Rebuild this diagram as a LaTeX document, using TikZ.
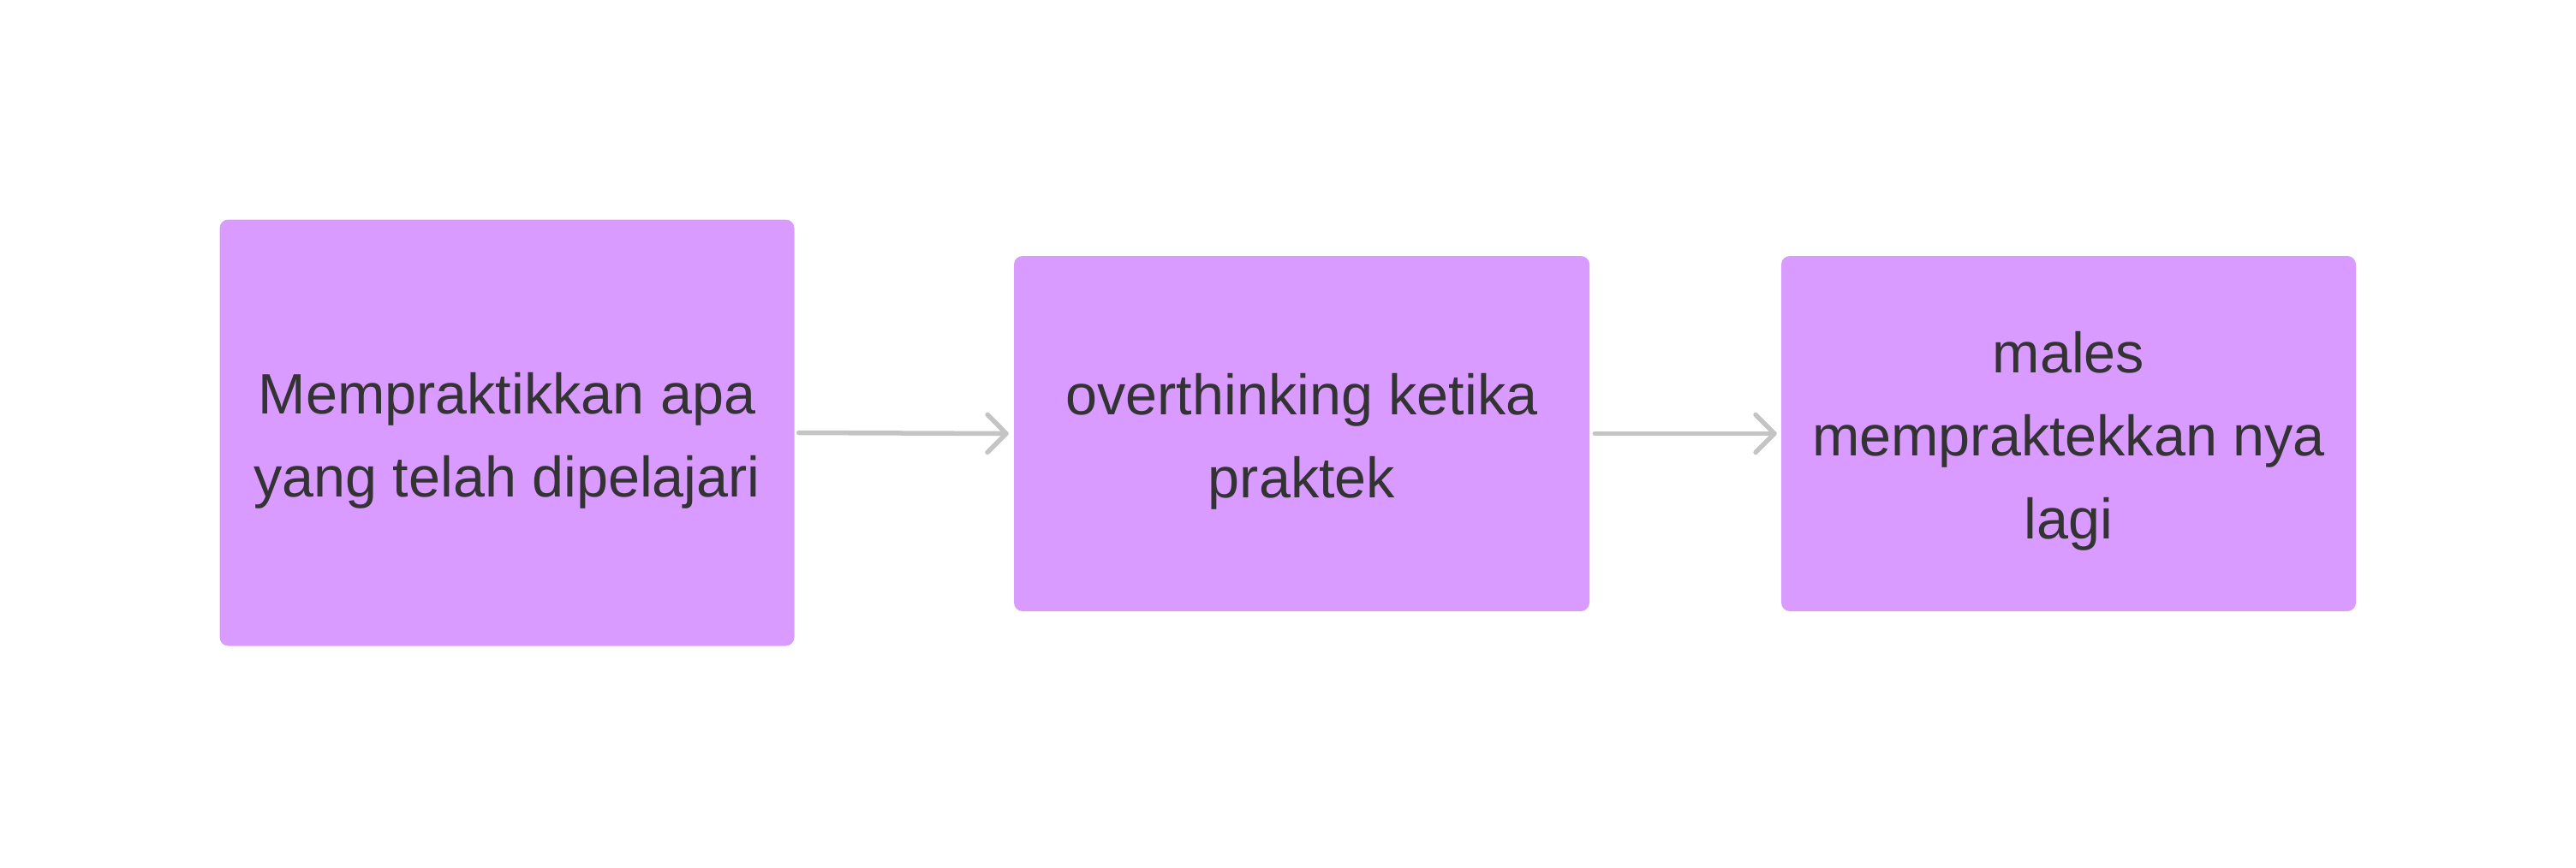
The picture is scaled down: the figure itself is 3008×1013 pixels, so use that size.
\documentclass[tikz,border=0pt]{standalone}
\usepackage{fontspec}
\setmainfont{Liberation Sans}
\usetikzlibrary{arrows.meta}
\definecolor{boxfill}{HTML}{D99BFF}
\definecolor{linec}{HTML}{C4C4C4}
\definecolor{txt}{HTML}{333333}
\tikzset{
  card/.style={fill=boxfill, draw=none, rounded corners=10pt, inner sep=0pt},
  cardtext/.style={align=center, inner sep=0pt, text=txt, font=\fontsize{66.5}{97}\selectfont},
  flow/.style={draw=linec, line width=5.5pt, line cap=round,
    -{Straight Barb[length=22pt, width=44pt, line width=5.5pt, round]}}
}
\begin{document}
\begin{tikzpicture}[x=1pt,y=-1pt]
\useasboundingbox (0,0) rectangle (3008,1013);
\node[card, minimum width=671pt, minimum height=498pt] (a) at (592,505.5) {};
\node[card, minimum width=672pt, minimum height=415pt] (b) at (1520,506.5) {};
\node[card, minimum width=671pt, minimum height=415pt] (c) at (2415.5,506.5) {};
\node[cardtext] (ta) at ([yshift=-9pt]a.center) {Mempraktikkan apa\\yang telah dipelajari};
\node[cardtext] (tb) at ([yshift=-9pt]b.center) {overthinking ketika\\praktek};
\node[cardtext] (tc) at ([yshift=-9pt]c.center) {males\\mempraktekkan nya\\lagi};
\draw[flow] ([xshift=5pt]a.east) -- ([xshift=-6pt]b.west);
\draw[flow] ([xshift=6pt]b.east) -- ([xshift=-5pt]c.west);
\end{tikzpicture}
\end{document}
